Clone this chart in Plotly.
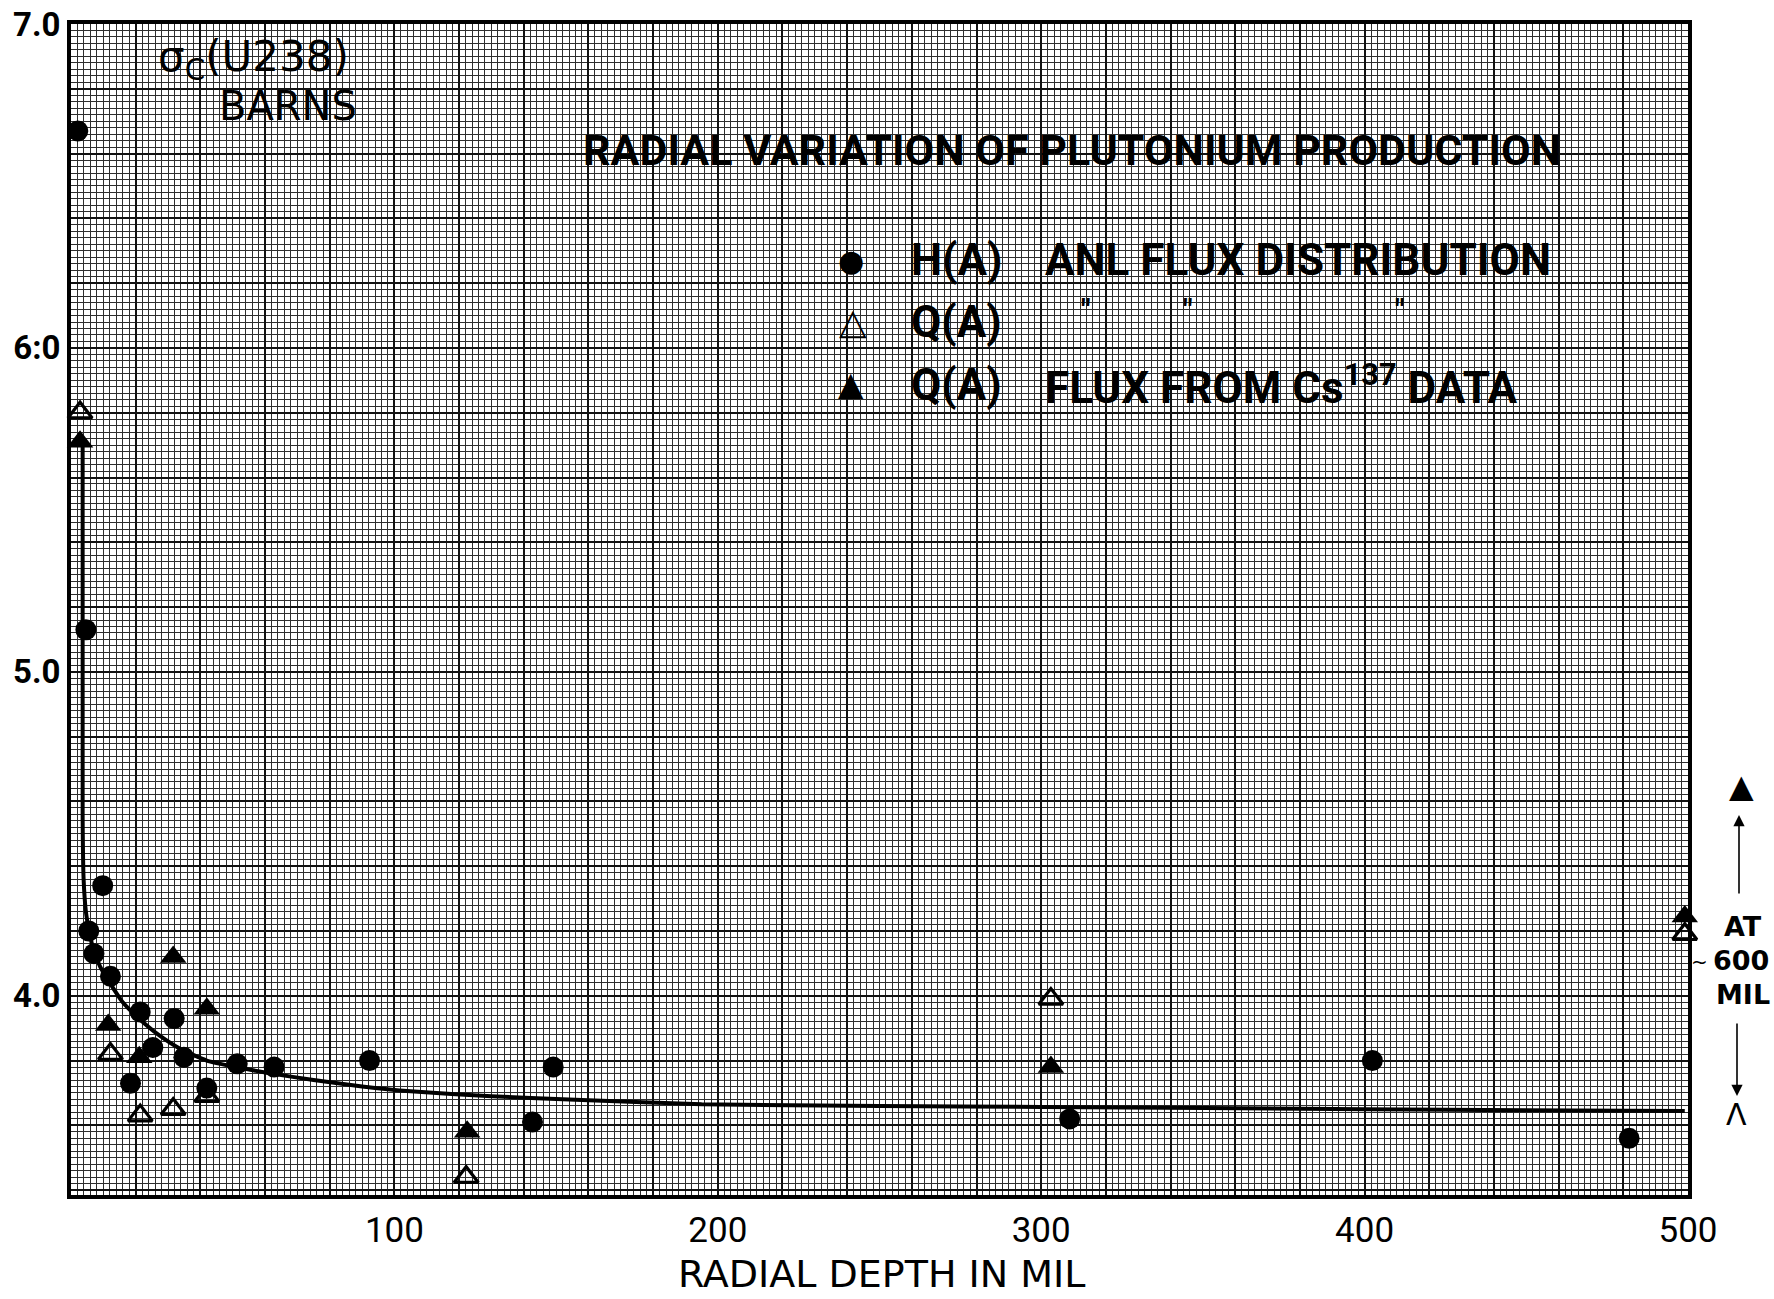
import plotly.graph_objects as go

# ---- data ----
h_depth = [2.1, 4.6, 9.8, 5.5, 7.1, 12.2, 21.4, 31.9, 25.3, 34.9, 18.4, 42.0, 51.4, 62.8, 92.3, 149.1, 142.7, 308.8, 402.4, 481.8]
h_sigma = [6.67, 5.13, 4.34, 4.20, 4.13, 4.06, 3.95, 3.93, 3.84, 3.81, 3.73, 3.715, 3.79, 3.78, 3.80, 3.78, 3.61, 3.62, 3.80, 3.56]

q_depth = [2.8, 12.2, 21.4, 31.6, 42.0, 122.2, 303.0, 499.0]
q_sigma = [5.80, 3.82, 3.63, 3.65, 3.69, 3.44, 3.99, 4.19]

cs_depth = [2.8, 11.5, 21.1, 31.6, 42.0, 122.5, 303.0, 499.0]
cs_sigma = [5.71, 3.91, 3.81, 4.12, 3.96, 3.58, 3.78, 4.245]

curve_depth = [3.6, 3.6, 3.9, 4.6, 5.6, 7.0, 9.0, 12.0, 16.0, 21.0, 27.0, 34.0, 42.0, 51.0, 62.0, 75.0, 90.0, 105.0, 130.0, 158.0, 195.0, 250.0, 300.0, 400.0, 499.0]
curve_sigma = [5.70, 4.55, 4.36, 4.26, 4.20, 4.14, 4.09, 4.04, 3.98, 3.93, 3.88, 3.835, 3.80, 3.78, 3.76, 3.74, 3.72, 3.705, 3.69, 3.678, 3.665, 3.66, 3.657, 3.65, 3.644]

x_label_vals = [100, 200, 300, 400, 500]
x_label_text = ["100", "200", "300", "400", "500"]
y_label_vals = [4.0, 5.0, 6.0, 7.0]
y_label_text = ["4.0", "5.0", "6:0", "7.0"]

X_MIN, X_MAX = 0, 500
Y_MIN, Y_MAX = 3.385, 7.0

# graph-paper grid: major every 20 mil / 0.2 barn, minor every 2 mil / 0.02 barn
x_major = [v for v in range(0, 501, 20)]
x_text = [x_label_text[x_label_vals.index(v)] if v in x_label_vals else "" for v in x_major]
y_major = [round(3.4 + 0.2 * k, 2) for k in range(19)]
y_text = []
for v in y_major:
    t = ""
    for lv, lt in zip(y_label_vals, y_label_text):
        if abs(lv - v) < 1e-6:
            t = lt
    y_text.append(t)

NARROW = "Roboto, Liberation Sans, sans-serif"
SANS = "DejaVu Sans, Liberation Sans, sans-serif"

fig = go.Figure()

fig.add_trace(go.Scatter(
    x=curve_depth, y=curve_sigma, mode="lines",
    line=dict(color="black", width=4, shape="spline", smoothing=0.5),
    showlegend=False, hoverinfo="skip", cliponaxis=False))

fig.add_trace(go.Scatter(
    x=h_depth, y=h_sigma, mode="markers", name="H(A) ANL FLUX DISTRIBUTION",
    marker=dict(symbol="circle", size=21, color="black"),
    showlegend=False, cliponaxis=False))

fig.add_trace(go.Scatter(
    x=q_depth, y=q_sigma, mode="markers", name="Q(A)",
    marker=dict(symbol="triangle-up-open", size=21, color="black", line=dict(width=3.2, color="black")),
    showlegend=False, cliponaxis=False))

fig.add_trace(go.Scatter(
    x=cs_depth, y=cs_sigma, mode="markers", name="Q(A) FLUX FROM Cs137 DATA",
    marker=dict(symbol="triangle-up", size=23, color="black"),
    showlegend=False, cliponaxis=False))

PL, PR, PT, PB = 71, 1688, 24, 1195
W, H = 1774, 1299


def px(xp):
    return (xp - PL) / (PR - PL)


def py(yp):
    return (PB - yp) / (PB - PT)


def note(xf, yf, text, font, xanchor="center"):
    return dict(x=px(xf), y=py(yf), xref="paper", yref="paper", xanchor=xanchor, yanchor="middle",
                text=text, showarrow=False, font=font)


ann = []
# title
ann.append(note(1072, 150, "<b>RADIAL VARIATION OF PLUTONIUM PRODUCTION</b>",
                dict(family=NARROW, size=43, color="black")))
# y axis unit label
ann.append(note(156, 60, "σ<sub>C</sub>(U238)", dict(family=SANS, size=42, color="black"), "left"))
ann.append(note(288, 106, "BARNS", dict(family=SANS, size=40, color="black")))
# legend glyphs
ann.append(note(851, 260, "●", dict(family=SANS, size=30, color="black")))
ann.append(note(853, 321, "<b>△</b>", dict(family=SANS, size=36, color="black")))
ann.append(note(851, 384, "▲", dict(family=SANS, size=33, color="black")))
# legend texts
leg_font = dict(family=NARROW, size=44, color="black")
ann.append(note(909, 260, "<b>H(A)</b>", leg_font, "left"))
ann.append(note(1043, 260, "<b>ANL FLUX DISTRIBUTION</b>", leg_font, "left"))
ann.append(note(909, 322, "<b>Q(A)</b>", leg_font, "left"))
for dx in (1086, 1188, 1400):
    ann.append(note(dx, 310, "<b>\"</b>", dict(family=NARROW, size=30, color="black")))
ann.append(note(909, 385, "<b>Q(A)</b>", leg_font, "left"))
ann.append(note(1043, 385, "<b>FLUX FROM Cs<sup>137</sup> DATA</b>", leg_font, "left"))

# right-side "AT 600 MIL" note
ann.append(note(1742, 786, "▲", dict(family=SANS, size=32, color="black")))
ann.append(dict(x=px(1739), y=py(815), xref="paper", yref="paper", ax=0, ay=80, text="",
                showarrow=True, arrowhead=2, arrowsize=1.4, arrowwidth=1.6, arrowcolor="black"))
note_font = dict(family=SANS, size=27, color="black")
ann.append(note(1743, 926, "<b>AT</b>", note_font))
ann.append(note(1741, 960, "<b>600</b>", note_font))
ann.append(note(1743, 994, "<b>MIL</b>", note_font))
ann.append(note(1699, 962, "~", dict(family=SANS, size=20, color="black")))
ann.append(dict(x=px(1737), y=py(1096), xref="paper", yref="paper", ax=0, ay=-74, text="",
                showarrow=True, arrowhead=2, arrowsize=1.4, arrowwidth=1.6, arrowcolor="black"))
ann.append(note(1736, 1114, "Λ", dict(family=SANS, size=30, color="black")))
# x-axis title
ann.append(note(882, 1274, "RADIAL DEPTH IN MIL", dict(family=SANS, size=38, color="black")))

fig.update_layout(
    width=W, height=H,
    margin=dict(l=PL, r=W - PR, t=PT, b=H - PB, pad=0, autoexpand=False),
    paper_bgcolor="white", plot_bgcolor="white",
    annotations=ann,
    showlegend=False,
)

fig.update_xaxes(
    range=[X_MIN, X_MAX], tickmode="array", tickvals=x_major, ticktext=x_text,
    showgrid=True, gridcolor="#111111", gridwidth=2.4,
    minor=dict(tick0=0, dtick=2, showgrid=True, gridcolor="#2e2e2e", gridwidth=1.3),
    showline=True, linecolor="black", linewidth=4, mirror=True, zeroline=False,
    ticks="", ticklabelstandoff=1, automargin=False,
    tickfont=dict(family=NARROW, size=35, color="black"),
)
fig.update_yaxes(
    range=[Y_MIN, Y_MAX], tickmode="array", tickvals=y_major, ticktext=y_text,
    showgrid=True, gridcolor="#111111", gridwidth=2.4,
    minor=dict(tick0=3.4, dtick=0.02, showgrid=True, gridcolor="#2e2e2e", gridwidth=1.3),
    showline=True, linecolor="black", linewidth=4, mirror=True, zeroline=False,
    ticks="", ticklabelstandoff=0, automargin=False,
    tickfont=dict(family=NARROW, size=33, color="black", weight="bold"),
)

fig.write_html("out.html")
